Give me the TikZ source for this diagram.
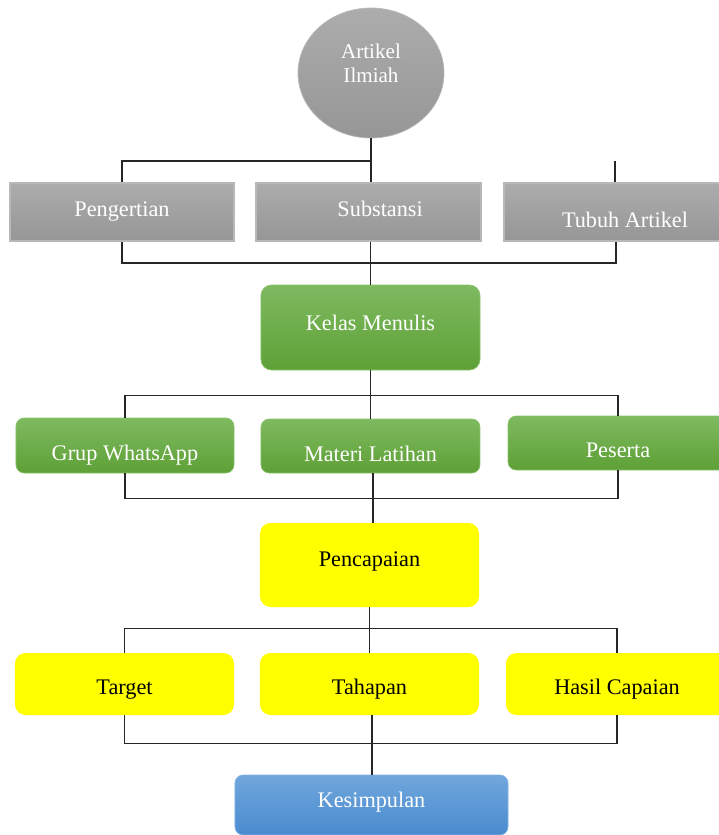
\documentclass[tikz,border=0pt]{standalone}
\usepackage{fontspec}
\setmainfont{Liberation Serif}
\usetikzlibrary{shapes.geometric}
\begin{document}
\begin{tikzpicture}[x=0.03cm, y=-0.03cm, font=\fontsize{19}{22}\selectfont,
    garis/.style={draw=black!85, line width=1.2pt},
    kotak/.style={rectangle, inner sep=0pt, text height=16.4pt, text depth=4pt},
    kotakabu/.style={kotak, draw=abutepi, line width=2pt, top color=abuatas, bottom color=abubawah, text=white},
    kotakhijau/.style={kotak, rounded corners=7pt, draw=hijautepi, line width=0.6pt, top color=hijauatas, bottom color=hijaubawah, text=white},
    kotakkuning/.style={kotak, rounded corners=9pt, fill=kuning, text=black},
    kotakbiru/.style={kotak, rounded corners=7pt, draw=birutepi, line width=0.6pt, top color=biruatas, bottom color=birubawah, text=white}]
    \definecolor{abuatas}{RGB}{172,172,172}
    \definecolor{abubawah}{RGB}{150,150,150}
    \definecolor{abutepi}{RGB}{184,184,184}
    \definecolor{hijauatas}{RGB}{126,186,96}
    \definecolor{hijaubawah}{RGB}{94,160,54}
    \definecolor{hijautepi}{RGB}{140,195,110}
    \definecolor{kuning}{RGB}{255,255,0}
    \definecolor{biruatas}{RGB}{112,167,221}
    \definecolor{birubawah}{RGB}{74,139,207}
    \definecolor{birutepi}{RGB}{130,178,228}
    \useasboundingbox (0,0) rectangle (718,835);

    % puncak
    \node[ellipse, draw=abutepi, line width=0.6pt, top color=abuatas, bottom color=abubawah, text=white,
        minimum width=4.38cm, minimum height=3.9cm, align=center, font=\fontsize{18}{21}\selectfont,
        text depth=17pt] (artikel) at (371,73) {Artikel\\Ilmiah};

    % baris abu-abu
    \node[kotakabu, minimum width=6.72cm, minimum height=1.74cm] (peng) at (122,212) {\raisebox{2.5pt}{Pengertian}};
    \node[kotakabu, minimum width=6.75cm, minimum height=1.74cm] (subs) at (368.5,212) {\hspace{0.7cm}\raisebox{2.5pt}{Substansi}};
    \node[kotakabu, minimum width=6.72cm, minimum height=1.74cm] (tubuh) at (616,212) {\hspace{0.54cm}\raisebox{-7pt}{Tubuh Artikel}};

    % baris hijau
    \node[kotakhijau, minimum width=6.57cm, minimum height=2.55cm, rounded corners=9pt] (kelas) at (370.5,327.5) {\raisebox{3.4pt}{Kelas Menulis}};
    \node[kotakhijau, minimum width=6.54cm, minimum height=1.65cm] (grup) at (125,445.5) {\raisebox{-6.4pt}{Grup WhatsApp}};
    \node[kotakhijau, minimum width=6.57cm, minimum height=1.62cm] (materi) at (370.5,446) {\raisebox{-6.8pt}{Materi Latihan}};
    \node[kotakhijau, minimum width=6.6cm, minimum height=1.62cm] (peserta) at (618,443) {\raisebox{-6pt}{Peserta}};

    % baris kuning
    \node[kotakkuning, minimum width=6.57cm, minimum height=2.52cm] (capai) at (369.5,565) {\raisebox{5pt}{Pencapaian}};
    \node[kotakkuning, minimum width=6.57cm, minimum height=1.86cm] (target) at (124.5,684) {\raisebox{-2.5pt}{Target}};
    \node[kotakkuning, minimum width=6.57cm, minimum height=1.86cm] (tahap) at (369.5,684) {\raisebox{-2.5pt}{Tahapan}};
    \node[kotakkuning, minimum width=6.66cm, minimum height=1.86cm] (hasil) at (617,684) {\raisebox{-2.5pt}{Hasil Capaian}};

    % akhir
    \node[kotakbiru, minimum width=8.19cm, minimum height=1.8cm] (simpul) at (371.5,805) {\raisebox{4pt}{Kesimpulan}};

    % garis penghubung
    \draw[garis] (artikel.south) -- (artikel.south |- subs.north);
    \draw[garis] (peng.north) -- ++(0,-21) -| (artikel.south);
    \draw[garis] ([xshift=-0.03cm]tubuh.north) -- ++(0,-21);
    \draw[garis] (peng.south) -- ++(0,21) -| (tubuh.south);
    \draw[garis] (kelas.north |- subs.south) -- (kelas.north);

    \draw[garis] (kelas.south) -- (materi.north);
    \draw[garis] (grup.north) -- ++(0,-22) -| (peserta.north);
    \draw[garis] (grup.south) -- ++(0,25) -| (peserta.south);
    \draw[garis] ([xshift=0.08cm]materi.south) -- ([xshift=0.08cm]materi.south |- capai.north);

    \draw[garis] (capai.south) -- (tahap.north);
    \draw[garis] (target.north) -- ++(0,-24) -| (hasil.north);
    \draw[garis] (target.south) -- ++(0,28) -| (hasil.south);
    \draw[garis] ([xshift=0.08cm]tahap.south) -- ([xshift=0.08cm]tahap.south |- simpul.north);
\end{tikzpicture}
\end{document}
